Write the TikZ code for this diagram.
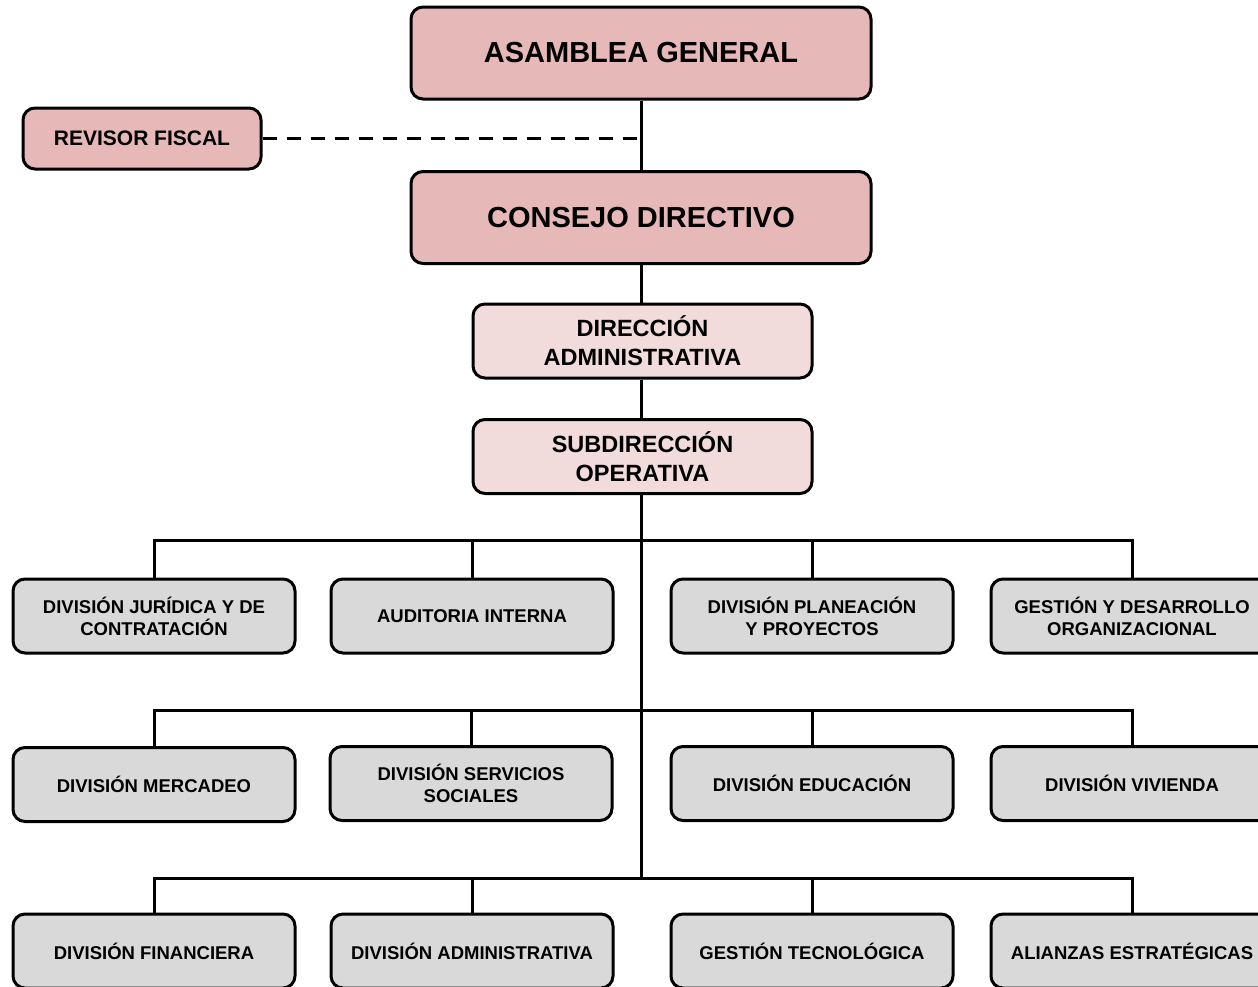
\documentclass[tikz,border=0pt]{standalone}
\usepackage{fontspec}
\setmainfont{Liberation Sans}
\definecolor{pinkdark}{RGB}{230,184,183}
\definecolor{pinklight}{RGB}{242,220,219}
\definecolor{boxgray}{RGB}{217,217,217}
\begin{document}
\begin{tikzpicture}[x=1pt,y=-1pt,
  box/.style={draw=black,line width=3pt,rounded corners=12pt,align=center,inner sep=0pt,font=\bfseries},
  topbox/.style={box,fill=pinkdark,minimum width=460pt,minimum height=92pt,font=\fontsize{29}{32}\selectfont\bfseries},
  revbox/.style={box,fill=pinkdark,minimum width=238pt,minimum height=61pt,font=\fontsize{21}{24}\selectfont\bfseries},
  midbox/.style={box,fill=pinklight,minimum width=339pt,minimum height=74pt,font=\fontsize{23.5}{29}\selectfont\bfseries},
  divbox/.style={box,fill=boxgray,minimum width=282pt,minimum height=74pt,font=\fontsize{18.5}{22}\selectfont\bfseries},
  conn/.style={line width=3pt,draw=black}]
\useasboundingbox (0,0) rectangle (1258,986);
\node[topbox] (ag) at (641,53) {ASAMBLEA GENERAL};
\node[revbox] (rev) at (142,138.5) {REVISOR FISCAL};
\node[topbox] (cd) at (641,217.5) {CONSEJO DIRECTIVO};
\node[midbox] (da) at (642.5,341) {DIRECCIÓN\\ADMINISTRATIVA};
\node[midbox] (so) at (642.5,456.5) {SUBDIRECCIÓN\\OPERATIVA};
% row 1
\node[divbox] (a1) at (154,616) {DIVISIÓN JURÍDICA Y DE\\CONTRATACIÓN};
\node[divbox] (a2) at (472,616) {AUDITORIA INTERNA};
\node[divbox] (a3) at (812,616) {DIVISIÓN PLANEACIÓN\\Y PROYECTOS};
\node[divbox] (a4) at (1132,616) {GESTIÓN Y DESARROLLO\\ORGANIZACIONAL};
% row 2
\node[divbox] (b1) at (154,784.5) {DIVISIÓN MERCADEO};
\node[divbox] (b2) at (471,783.5) {DIVISIÓN SERVICIOS\\SOCIALES};
\node[divbox] (b3) at (812,783.5) {DIVISIÓN EDUCACIÓN};
\node[divbox] (b4) at (1132,783.5) {DIVISIÓN VIVIENDA};
% row 3
\node[divbox] (c1) at (154,951) {DIVISIÓN FINANCIERA};
\node[divbox] (c2) at (472,951) {DIVISIÓN ADMINISTRATIVA};
\node[divbox] (c3) at (812,951) {GESTIÓN TECNOLÓGICA};
\node[divbox] (c4) at (1132,951) {ALIANZAS ESTRATÉGICAS};
% junctions
\coordinate (j1) at (641,540);
\coordinate (j2) at (641,710);
\coordinate (j3) at (641,878);
% connectors
\draw[conn] (ag.south -| j1) -- (cd.north -| j1);
\draw[conn,dash pattern=on 14pt off 10pt] (rev.east) -- (rev.east -| j1);
\draw[conn] (cd.south -| j1) -- (da.north -| j1);
\draw[conn] (da.south -| j1) -- (so.north -| j1);
\draw[conn] (so.south -| j1) -- (j3);
\draw[conn] (a1.north -| a1) |- (j1) -| (a4.north);
\draw[conn] (a2.north) -- (a2.north |- j1);
\draw[conn] (a3.north) -- (a3.north |- j1);
\draw[conn] (b1.north) |- (j2) -| (b4.north);
\draw[conn] (b2.north) -- (b2.north |- j2);
\draw[conn] (b3.north) -- (b3.north |- j2);
\draw[conn] (c1.north) |- (j3) -| (c4.north);
\draw[conn] (c2.north) -- (c2.north |- j3);
\draw[conn] (c3.north) -- (c3.north |- j3);
\end{tikzpicture}
\end{document}
